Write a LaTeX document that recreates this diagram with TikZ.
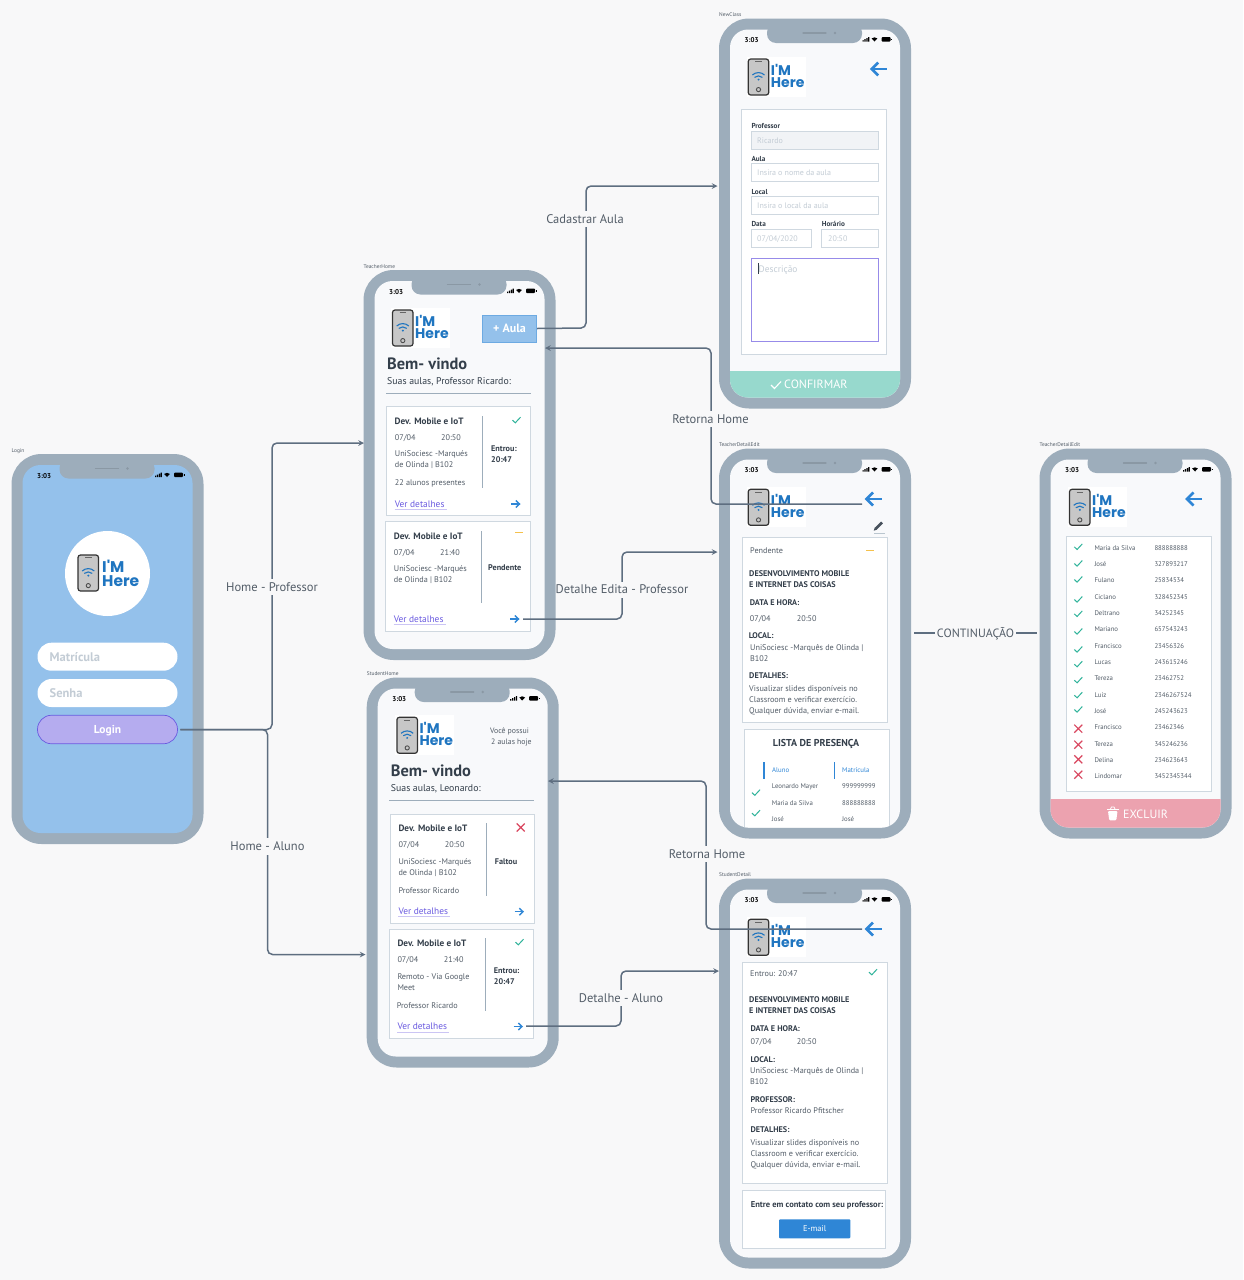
\documentclass[tikz,border=0pt]{standalone}
\usepackage{fontspec}
\setmainfont{PT Sans}
\newfontfamily\logofont{Poppins}
\definecolor{pagecol}{HTML}{F8F8F9}
\definecolor{framecol}{HTML}{9DADBB}
\definecolor{screencol}{HTML}{F8F9FB}
\definecolor{skycol}{HTML}{94C1EB}
\definecolor{cardline}{HTML}{CFD8E0}
\definecolor{inkcol}{HTML}{535D68}
\definecolor{darkcol}{HTML}{333E4A}
\definecolor{wirecol}{HTML}{5E6E80}
\definecolor{bluecol}{HTML}{2F86D6}
\definecolor{logocol}{HTML}{1F75C0}
\definecolor{tealcol}{HTML}{2FB39A}
\definecolor{redcol}{HTML}{D9465F}
\definecolor{ambercol}{HTML}{F5C14C}
\definecolor{purplecol}{HTML}{6A5AE0}
\definecolor{holdcol}{HTML}{C3CCD5}
\tikzset{
  wire/.style={draw=wirecol,line width=1.5pt,rounded corners=5pt,>=stealth},
  wiretext/.style={fill=pagecol,inner xsep=0pt,inner ysep=3.5pt,text=inkcol,font=\fontsize{12.5}{14}\selectfont},
  phonebody/.style={fill=framecol,rounded corners=30pt,minimum width=192pt,minimum height=390pt,inner sep=0pt},
  phonetag/.style={anchor=base west,inner sep=0pt,text=inkcol,font=\fontsize{5.4}{6}\selectfont},
  clocktext/.style={anchor=west,inner sep=0pt,text=black,font=\fontsize{7}{8}\bfseries\selectfont},
  bodytext/.style={anchor=base west,inner sep=0pt,text=inkcol,font=\fontsize{8.2}{9}\selectfont},
  listtext/.style={bodytext,font=\fontsize{6.8}{8}\selectfont},
  boldtext/.style={anchor=base west,inner sep=0pt,text=darkcol,font=\fontsize{8.2}{9}\bfseries\selectfont},
  cardtitle/.style={boldtext,font=\fontsize{9.2}{10}\bfseries\selectfont},
  hellotext/.style={boldtext,font=\fontsize{16.4}{18}\bfseries\selectfont},
  subtext/.style={bodytext,text=darkcol,font=\fontsize{9.8}{11}\selectfont},
  linktext/.style={bodytext,text=purplecol,font=\fontsize{9.4}{10}\selectfont},
  fieldtag/.style={boldtext,font=\fontsize{7.2}{8}\bfseries\selectfont},
  holdtext/.style={bodytext,text=holdcol,font=\fontsize{8}{9}\selectfont},
  logintext/.style={anchor=base west,inner sep=0pt,text=holdcol,font=\fontsize{12.5}{14}\bfseries\selectfont},
  footertext/.style={anchor=base west,inner sep=0pt,text=white,font=\fontsize{12}{13}\selectfont},
  cardbox/.style={fill=white,draw=cardline,line width=.8pt},
  fieldbox/.style={fill=white,draw=cardline,line width=.8pt},
  rulerline/.style={draw=framecol,line width=.9pt},
  okline/.style={draw=tealcol,line width=1pt},
  noline/.style={draw=redcol,line width=1.2pt},
  amberline/.style={draw=ambercol,line width=1.2pt},
  pillbox/.style={rounded corners=14pt,minimum width=140pt,minimum height=28pt,inner sep=0pt},
}
% phone: name, left, top, screen colour, tag
\newcommand{\drawphone}[5]{
  \begin{scope}[shift={(#2,#3)}]
    \node[phonebody] (#1) at (96,195) {};
    \fill[#4,rounded corners=18pt] (11,11) rectangle (181,379);
    \fill[framecol,rounded corners=9pt] (48,5) -- (48,24.5) -- (143,24.5) -- (143,5) -- cycle;
    \draw[framecol!88!black,line width=1.3pt,line cap=round] (84,14.5) -- (107,14.5);
    \fill[framecol!88!black] (116,14.5) circle (1.4pt);
    \node[phonetag] (#1tag) at (0,-2) {#5};
    \node[clocktext] (#1clock) at (25.5,22) {3:03};
    \fill[black] (143.5,21.5) rectangle (144.7,23) (145.4,20.7) rectangle (146.6,23) (147.3,19.7) rectangle (148.5,23) (149.2,18.7) rectangle (150.4,23);
    \fill[black] (152.6,20) -- (155.5,23) -- (158.4,20) .. controls (156.8,18.4) and (154.2,18.4) .. cycle;
    \fill[black,rounded corners=.8pt] (162.5,18.7) rectangle (171.5,23);
    \fill[black] (172,20) rectangle (172.8,21.8);
  \end{scope}
}
% logo picture: left, top
\newcommand{\logoicon}[2]{
  \begin{scope}[shift={(#1,#2)}]
    \fill[white] (0,0) rectangle (59,40);
    \draw[fill=black!22,draw=black!80,line width=1.2pt,rounded corners=2.5pt] (1.5,2) rectangle (22,38);
    \draw[black!60,line width=.8pt] (8.5,4.7) -- (15,4.7);
    \draw[logocol,line width=1.1pt] (5.7,18) .. controls (9,14.8) and (14.5,14.8) .. (17.8,18);
    \draw[logocol,line width=1.1pt] (7.8,20.4) .. controls (10,18.4) and (13.5,18.4) .. (15.7,20.4);
    \fill[logocol] (11.8,22.6) circle (1.1pt);
    \draw[black!70,line width=.9pt] (11.8,32.6) circle (2.1pt);
  \end{scope}
}
% logo words: name, left, first baseline, second baseline, size
\newcommand{\logowords}[5]{
  \node[anchor=base west,inner sep=0pt,text=logocol,font=\logofont\fontsize{#5}{15}\bfseries\selectfont] (#1a) at (#2,#3) {I'M};
  \node[anchor=base west,inner sep=0pt,text=logocol,font=\logofont\fontsize{#5}{15}\bfseries\selectfont] (#1b) at (#2,#4) {Here};
}
\newcommand{\imlogo}[3]{
  \logoicon{#2}{#3}
  \logowords{#1}{#2+24}{#3+18}{#3+30.5}{14}
}
\newcommand{\backarrow}[2]{
  \draw[bluecol,line width=2.6pt,shift={(#1,#2)}] (0,0) -- (-14.5,0);
  \draw[bluecol,line width=2.6pt,shift={(#1,#2)}] (-8.5,-6.5) -- (-15,0) -- (-8.5,6.5);
}
\newcommand{\smallarrow}[2]{
  \draw[bluecol,line width=1.4pt,shift={(#1,#2)}] (-4.5,0) -- (4,0);
  \draw[bluecol,line width=1.4pt,shift={(#1,#2)}] (.3,-3.5) -- (4,0) -- (.3,3.5);
}
\newcommand{\okmark}[2]{\draw[okline,shift={(#1,#2)}] (-4,.2) -- (-1.2,2.8) -- (4,-2.8);}
\newcommand{\nomark}[2]{\draw[noline,shift={(#1,#2)}] (-4,-4) -- (4,4) (-4,4) -- (4,-4);}
\newcommand{\ambermark}[2]{\draw[amberline,shift={(#1,#2)}] (-4,0) -- (4,0);}
% link under a card: name, left, baseline
\newcommand{\verlink}[3]{
  \node[linktext] (#1) at (#2,#3) {Ver detalhes};
  \draw[purplecol!35,line width=.6pt,shift={(#2,#3)}] (0,2.4) -- (52,2.4);
}
\newcommand{\screenclip}[2]{\clip[rounded corners=18pt,shift={(#1,#2)}] (11,11) rectangle (181,379);}
\begin{document}
\begin{tikzpicture}[x=1pt,y=-1pt]
  \fill[pagecol] (0,0) rectangle (1243,1280);
  \useasboundingbox (0,0) rectangle (1243,1280);

  % login
  \drawphone{loginPhone}{11.5}{454}{skycol}{Login}
  \fill[white] (107.5,573.5) circle (42.5pt);
  \logoicon{76.5}{553}
  \logowords{loginLogo}{102}{572.5}{586.2}{15.5}
  \node[pillbox,fill=white] (mBox) at (107.5,656.7) {};
  \node[pillbox,fill=white] (sBox) at (107.5,693) {};
  \node[pillbox,fill=purplecol!50,draw=purplecol,line width=.7pt,minimum height=28.5pt,text height=8pt,text depth=0pt,text=white,font=\fontsize{11.5}{13}\bfseries\selectfont] (loginBtn) at (107.5,729.5) {Login};
  \node[logintext] (mText) at (49.5,661) {Matrícula};
  \node[logintext] (sText) at (49.5,697) {Senha};

  % teacher home
  \drawphone{tHome}{363.5}{270}{screencol}{TeacherHome}
  \imlogo{tHomeLogo}{391}{308}
  \node[fill=skycol,draw=bluecol!70,line width=.7pt,minimum width=54.5pt,minimum height=27pt,inner sep=0pt,text=white,font=\fontsize{12}{13}\bfseries\selectfont] (addBtn) at (509.5,328.5) {+ Aula};
  \node[hellotext] (tHello) at (387,369) {Bem- vindo};
  \node[subtext] (tSub) at (387,384) {Suas aulas, Professor Ricardo:};
  \draw[rulerline] (386,393.3) -- (531,393.3);
  \draw[cardbox] (386.7,406) rectangle (530.5,515.7);
  \node[cardtitle] (c1t) at (394.5,424) {Dev. Mobile e IoT};
  \node[bodytext] (c1a) at (394.7,440) {07/04};
  \node[bodytext] (c1b) at (441,440) {20:50};
  \node[bodytext] (c1c) at (394.7,456.7) {UniSociesc -Marqués};
  \node[bodytext] (c1d) at (394.7,467.7) {de Olinda | B102};
  \node[bodytext] (c1e) at (394.7,485.7) {22 alunos presentes};
  \verlink{c1f}{394.7}{507}
  \smallarrow{515.5}{504}
  \draw[rulerline] (482.3,416) -- (482.3,488);
  \okmark{516.5}{420}
  \node[boldtext] (c1g) at (491,451) {Entrou:};
  \node[boldtext] (c1h) at (491,462) {20:47};
  \draw[cardbox] (385.7,521.7) rectangle (530,631);
  \node[cardtitle] (c2t) at (393.7,539) {Dev. Mobile e IoT};
  \node[bodytext] (c2a) at (393.7,555.3) {07/04};
  \node[bodytext] (c2b) at (440,555.3) {21:40};
  \node[bodytext] (c2c) at (393.7,571.7) {UniSociesc -Marqués};
  \node[bodytext] (c2d) at (393.7,582.7) {de Olinda | B102};
  \verlink{c2f}{393.7}{622}
  \smallarrow{514.5}{619}
  \draw[rulerline] (481.5,531) -- (481.5,603);
  \ambermark{519}{532.5}
  \node[boldtext] (c2g) at (488,570) {Pendente};

  % student home
  \drawphone{sHome}{366.7}{677.5}{screencol}{StudentHome}
  \imlogo{sHomeLogo}{395.4}{715.3}
  \node[listtext,font=\fontsize{7.8}{9}\selectfont] (sNoteA) at (490,733) {Você possui};
  \node[listtext,font=\fontsize{7.8}{9}\selectfont] (sNoteB) at (491,744) {2 aulas hoje};
  \node[hellotext] (sHello) at (390.7,776.7) {Bem- vindo};
  \node[subtext] (sSub) at (390.7,791) {Suas aulas, Leonardo:};
  \draw[rulerline] (389,800.3) -- (534,800.3);
  \draw[cardbox] (390.5,814.3) rectangle (534.5,923.3);
  \node[cardtitle] (c3t) at (398.3,831.3) {Dev. Mobile e IoT};
  \node[bodytext] (c3a) at (398.3,847.7) {07/04};
  \node[bodytext] (c3b) at (444.7,847.7) {20:50};
  \node[bodytext] (c3c) at (398.3,864) {UniSociesc -Marqués};
  \node[bodytext] (c3d) at (398.3,875) {de Olinda | B102};
  \node[bodytext] (c3e) at (398.3,893.3) {Professor Ricardo};
  \verlink{c3f}{398.3}{914.3}
  \smallarrow{519}{911.7}
  \draw[rulerline] (486.5,823) -- (486.5,896);
  \nomark{520.7}{827.5}
  \node[boldtext] (c3g) at (494.7,864) {Faltou};
  \draw[cardbox] (389.5,929.3) rectangle (533.5,1038.3);
  \node[cardtitle] (c4t) at (397.3,946.3) {Dev. Mobile e IoT};
  \node[bodytext] (c4a) at (397.3,962.7) {07/04};
  \node[bodytext] (c4b) at (443.7,962.7) {21:40};
  \node[bodytext] (c4c) at (397.3,979.3) {Remoto - Via Google};
  \node[bodytext] (c4d) at (397.3,990) {Meet};
  \node[bodytext] (c4e) at (396.7,1008.3) {Professor Ricardo};
  \verlink{c4f}{397.3}{1029.7}
  \smallarrow{518}{1026.5}
  \draw[rulerline] (485.5,938) -- (485.5,1011);
  \okmark{519.5}{942}
  \node[boldtext] (c4g) at (493.7,973.3) {Entrou:};
  \node[boldtext] (c4h) at (493.7,984.3) {20:47};

  % new class
  \drawphone{newClass}{719}{18.5}{screencol}{NewClass}
  \imlogo{newLogo}{746.7}{57}
  \backarrow{886.7}{69}
  \draw[cardbox] (741.7,109.3) rectangle (886.7,354.3);
  \node[fieldtag] (nTagA) at (751.3,128.7) {Professor};
  \draw[fieldbox,fill=screencol!60!cardline!60] (751.3,131) rectangle (878.3,149);
  \node[holdtext] (nHoldA) at (757,143) {Ricardo};
  \node[fieldtag] (nTagB) at (751.3,161.7) {Aula};
  \draw[fieldbox] (751.3,163.7) rectangle (878.3,181.7);
  \node[holdtext] (nHoldB) at (757,175.7) {Insira o nome da aula};
  \node[fieldtag] (nTagC) at (751.3,194) {Local};
  \draw[fieldbox] (751.3,196.3) rectangle (878.3,214.3);
  \node[holdtext] (nHoldC) at (757,208.3) {Insira o local da aula};
  \node[fieldtag] (nTagD) at (751.3,226.7) {Data};
  \node[fieldtag] (nTagE) at (821.7,226.7) {Horário};
  \draw[fieldbox] (751.3,229) rectangle (811.3,247);
  \draw[fieldbox] (821.7,229) rectangle (878.3,247);
  \node[holdtext] (nHoldD) at (757,241) {07/04/2020};
  \node[holdtext] (nHoldE) at (828,241) {20:50};
  \draw[fieldbox,draw=purplecol!70] (751.3,258) rectangle (878.3,341.3);
  \draw[darkcol,line width=.5pt] (758.3,263) -- (758.3,274);
  \node[holdtext,font=\fontsize{9.4}{11}\selectfont] (nHoldF) at (758.5,272) {Descrição};
  \begin{scope}
    \screenclip{719}{18.5}
    \fill[tealcol!50] (719,370.7) rectangle (911,408);
  \end{scope}
  \draw[white,line width=1.1pt] (771,385) -- (774.5,388.5) -- (781,381.5);
  \node[footertext] (nOk) at (784,388) {CONFIRMAR};

  % teacher detail
  \drawphone{tDetail}{719}{448.5}{screencol}{TeacherDetailEdit}
  \imlogo{tDetailLogo}{746.7}{487.3}
  \backarrow{881.5}{499}
  \draw[darkcol!90,line width=2.8pt] (875.5,529) -- (882,522.5);
  \fill[darkcol!90] (873.7,530.7) -- (874.7,527.7) -- (876.7,529.7) -- cycle;
  \draw[framecol!70,line width=.8pt] (874,533) -- (885,533);
  \draw[cardbox] (742.7,537.3) rectangle (887,722.3);
  \node[bodytext] (dState) at (750,553.3) {Pendente};
  \ambermark{870.3}{550.7}
  \node[boldtext] (dNameA) at (749,576) {DESENVOLVIMENTO MOBILE};
  \node[boldtext] (dNameB) at (749,587.5) {E INTERNET DAS COISAS};
  \node[boldtext] (dDateTag) at (749.7,605.7) {DATA E HORA:};
  \node[bodytext] (dDate) at (749.7,621) {07/04};
  \node[bodytext] (dHour) at (796.7,621) {20:50};
  \node[boldtext] (dLocalTag) at (748.7,638) {LOCAL:};
  \node[bodytext] (dLocalA) at (750,650) {UniSociesc -Marquês de Olinda |};
  \node[bodytext] (dLocalB) at (750,661) {B102};
  \node[boldtext] (dInfoTag) at (749,678.7) {DETALHES:};
  \node[bodytext] (dInfoA) at (749,691) {Visualizar slides disponíveis no};
  \node[bodytext] (dInfoB) at (749,702) {Classroom e verificar exercício.};
  \node[bodytext] (dInfoC) at (749,713) {Qualquer dúvida, enviar e-mail.};
  \begin{scope}
    \screenclip{719}{448.5}
    \draw[cardbox] (744.3,729.3) rectangle (889,845);
  \end{scope}
  \node[boldtext,anchor=base,font=\fontsize{10}{11}\bfseries\selectfont] (lTitle) at (816,746.7) {LISTA DE PRESENÇA};
  \draw[bluecol,line width=1.2pt] (764,762.3) -- (764,778.7);
  \draw[bluecol,line width=1.2pt] (834.3,762.3) -- (834.3,778.7);
  \node[listtext,text=bluecol] (lHeadA) at (772,772.7) {Aluno};
  \node[listtext,text=bluecol] (lHeadB) at (842,772.7) {Matrícula};
  \node[listtext] (lNameA) at (771.7,788.7) {Leonardo Mayer};
  \node[listtext] (lNumA) at (842,788.7) {999999999};
  \node[listtext] (lNameB) at (771.7,805) {Maria da Silva};
  \node[listtext] (lNumB) at (842,805) {888888888};
  \node[listtext] (lNameC) at (771.7,821) {José};
  \node[listtext] (lNumC) at (842,821) {José};
  \okmark{756}{792.5}
  \okmark{756}{813}

  % presence list
  \drawphone{tList}{1039.5}{448.5}{screencol}{TeacherDetailEdit}
  \imlogo{tListLogo}{1068}{487.3}
  \backarrow{1202}{499}
  \draw[cardbox] (1066.7,536.7) rectangle (1211.3,791.3);
  \foreach \who/\num [count=\i] in {Maria da Silva/888888888,José/327893217,Fulano/25834534,Ciclano/328452345,Deltrano/34252345,Mariano/657543243,Francisco/23456326,Lucas/243615246,Tereza/23462752,Luiz/2346267524,José/245243623,Francisco/23462346,Tereza/345246236,Delina/234623643,Lindomar/3452345344}{
    \node[listtext] (rowA\i) at (1094.3,{533.9+16.33*\i}) {\who};
    \node[listtext] (rowB\i) at (1154.3,{533.9+16.33*\i}) {\num};
  }
  \foreach \cy in {320,370,418,478,521,574,628,672,720,765,808}{\okmark{1078.3}{{440+\cy/3}}}
  \foreach \cy in {866,914,958,1004}{\nomark{1078.3}{{440+\cy/3}}}
  \begin{scope}
    \screenclip{1039.5}{448.5}
    \fill[redcol!50] (1039.5,798.7) rectangle (1231.5,838.5);
  \end{scope}
  \fill[white,rounded corners=1pt] (1108,811) -- (1117.5,811) -- (1116.3,820.3) -- (1109.2,820.3) -- cycle;
  \draw[white,line width=1.2pt] (1107,809.3) -- (1118.5,809.3);
  \draw[white,line width=.8pt] (1110.5,809) -- (1111.5,807) -- (1114,807) -- (1115,809);
  \node[footertext] (lDel) at (1123,818) {EXCLUIR};

  % student detail
  \drawphone{sDetail}{719}{878.5}{screencol}{StudentDetail}
  \imlogo{sDetailLogo}{746.7}{917.3}
  \backarrow{881.5}{929}
  \draw[cardbox] (742.7,962.7) rectangle (887,1183.3);
  \node[bodytext] (eState) at (750,976.7) {Entrou: 20:47};
  \okmark{873}{972}
  \node[boldtext] (eNameA) at (749,1002) {DESENVOLVIMENTO MOBILE};
  \node[boldtext] (eNameB) at (749,1013) {E INTERNET DAS COISAS};
  \node[boldtext] (eDateTag) at (750.3,1031) {DATA E HORA:};
  \node[bodytext] (eDate) at (750.5,1044.7) {07/04};
  \node[bodytext] (eHour) at (796.7,1044.7) {20:50};
  \node[boldtext] (eLocalTag) at (750.3,1062.7) {LOCAL:};
  \node[bodytext] (eLocalA) at (750,1073.7) {UniSociesc -Marquês de Olinda |};
  \node[bodytext] (eLocalB) at (750,1084.7) {B102};
  \node[boldtext] (eProfTag) at (750.3,1102.7) {PROFESSOR:};
  \node[bodytext] (eProf) at (750.3,1113.7) {Professor Ricardo Pfitscher};
  \node[boldtext] (eInfoTag) at (750.3,1132.7) {DETALHES:};
  \node[bodytext] (eInfoA) at (750.3,1145.3) {Visualizar slides disponíveis no};
  \node[bodytext] (eInfoB) at (750.3,1156.3) {Classroom e verificar exercício.};
  \node[bodytext] (eInfoC) at (750.3,1167.3) {Qualquer dúvida, enviar e-mail.};
  \draw[cardbox] (742.7,1190.7) rectangle (885.7,1248.3);
  \node[boldtext,font=\fontsize{8.5}{9}\bfseries\selectfont] (eAsk) at (750.7,1207.7) {Entre em contato com seu professor:};
  \node[fill=bluecol,rounded corners=1pt,minimum width=71.3pt,minimum height=19pt,inner sep=0pt,text=white,font=\fontsize{8.4}{9}\selectfont] (mailBtn) at (814.7,1228.8) {E-mail};

  % connectors
  \coordinate (loginUp) at (272,729.5);
  \coordinate (loginDown) at (267.5,729.5);
  \coordinate (tHomeIn) at (364,443);
  \coordinate (sHomeIn) at (365.5,954.5);
  \coordinate (addTurn) at (586,328);
  \coordinate (newIn) at (717.5,186);
  \coordinate (tdOut) at (862,504);
  \coordinate (tdTurn) at (711,504);
  \coordinate (tHomeBack) at (545,348);
  \coordinate (editOut) at (523,619);
  \coordinate (editTurn) at (622,619);
  \coordinate (editIn) at (717.5,552);
  \coordinate (sdOut) at (862,929);
  \coordinate (sdTurn) at (706,929);
  \coordinate (sHomeBack) at (548,781);
  \coordinate (askOut) at (526,1026);
  \coordinate (askTurn) at (621,1026);
  \coordinate (sdIn) at (719,971);
  \coordinate (moreOut) at (914,633);
  \coordinate (moreIn) at (1037,633);
  \draw[wire,->,shorten <=2.5pt] (loginBtn.east) -- (loginUp) |- (tHomeIn);
  \draw[wire,->,shorten <=2.5pt] (loginBtn.east) -- (loginDown) |- (sHomeIn);
  \draw[wire,->] (addBtn.east) -- (addTurn) |- (newIn);
  \draw[wire,->] (tdOut) -- (tdTurn) |- (tHomeBack);
  \draw[wire,->] (editOut) -- (editTurn) |- (editIn);
  \draw[wire,->] (sdOut) -- (sdTurn) |- (sHomeBack);
  \draw[wire,->] (askOut) -- (askTurn) |- (sdIn);
  \draw[wire] (moreOut) -- (moreIn);
  \node[wiretext] (w1) at (272,587) {Home - Professor};
  \node[wiretext] (w2) at (267.5,846.5) {Home - Aluno};
  \node[wiretext] (w3) at (585,219) {Cadastrar Aula};
  \node[wiretext] (w4) at (710.5,419) {Retorna Home};
  \node[wiretext] (w5) at (622,589.5) {Detalhe Edita - Professor};
  \node[wiretext,inner xsep=1.5pt,font=\fontsize{12}{14}\selectfont] (w6) at (975.5,634) {CONTINUAÇÃO};
  \node[wiretext] (w7) at (707,854) {Retorna Home};
  \node[wiretext] (w8) at (621,998) {Detalhe - Aluno};
\end{tikzpicture}
\end{document}
